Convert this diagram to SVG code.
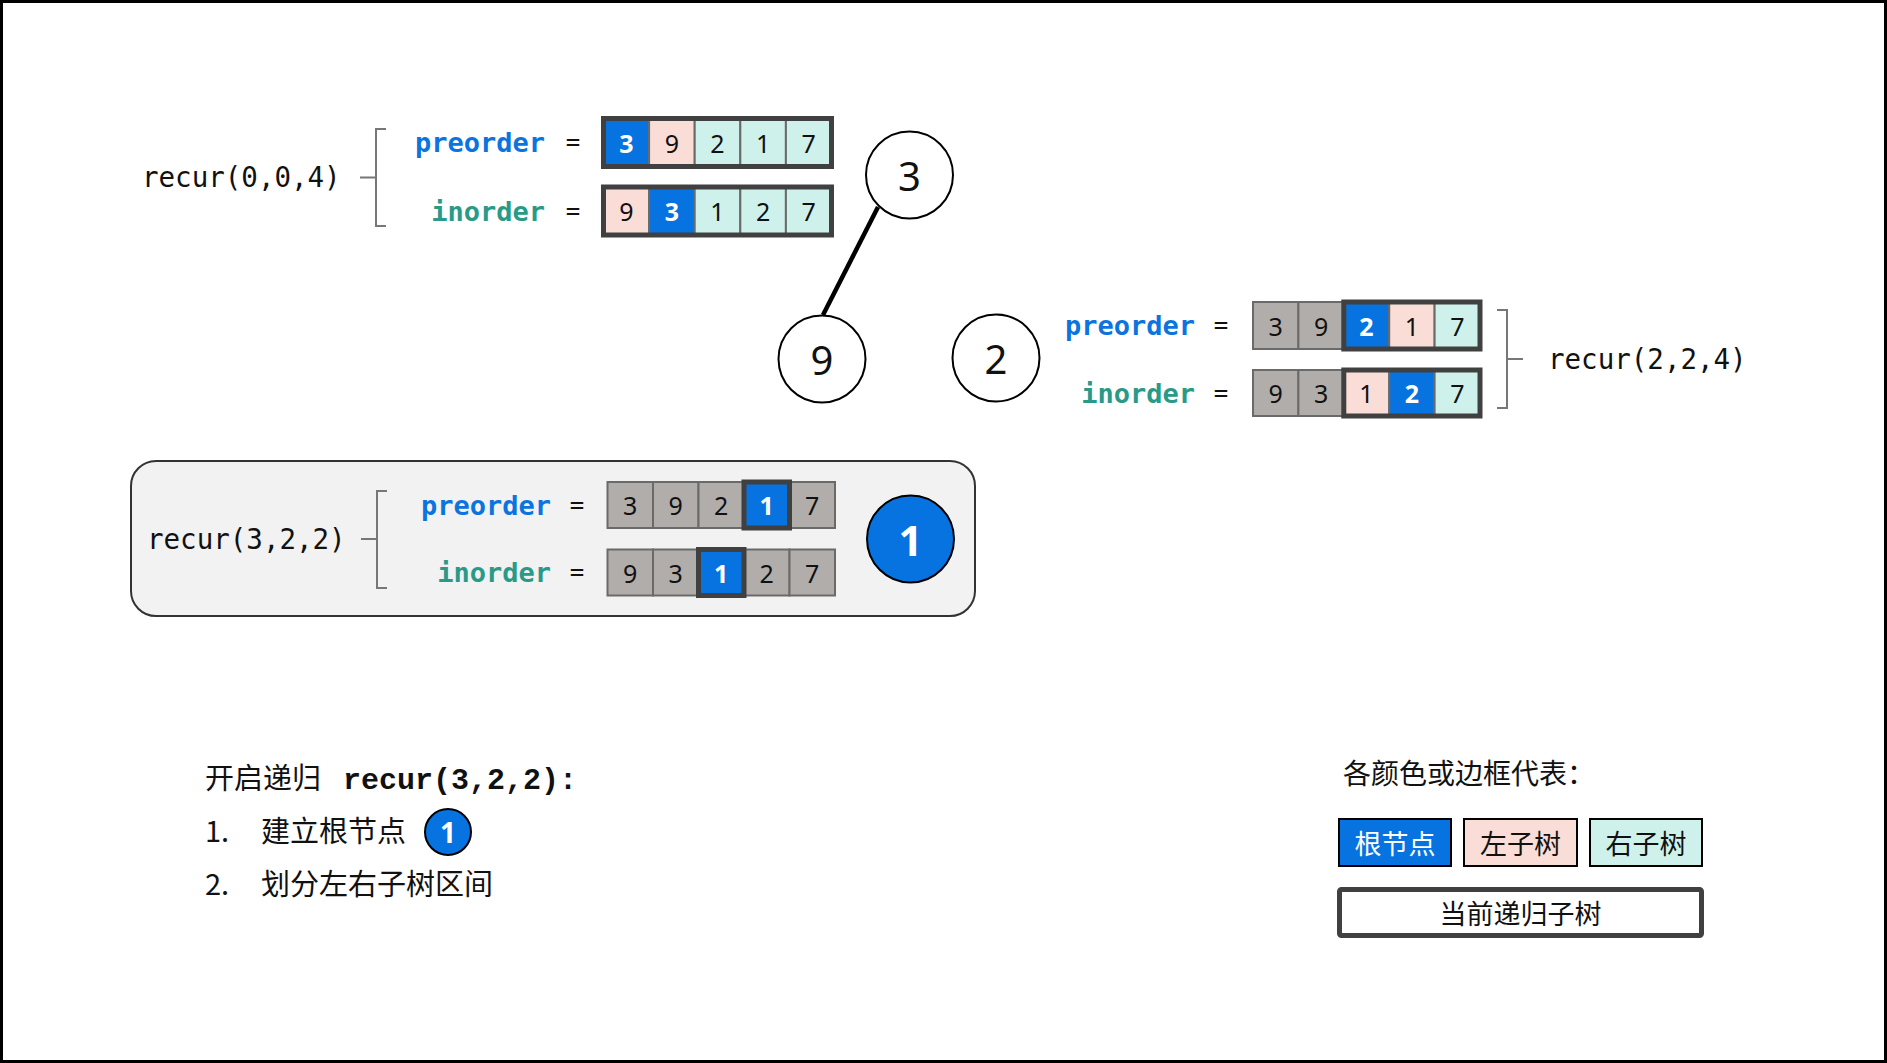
<svg xmlns="http://www.w3.org/2000/svg" width="1887" height="1063" viewBox="0 0 1887 1063">
<style>
.mono{font-family:"DejaVu Sans Mono","Liberation Mono",monospace;font-size:27.5px;fill:#111}
.kw{font-family:"DejaVu Sans Mono","Liberation Mono",monospace;font-size:27px;font-weight:bold}
.pre{fill:#0b74de}
.ino{fill:#2a9a88}
.eq{font-family:"DejaVu Sans Mono","Liberation Mono",monospace;font-size:24px;fill:#111}
.num{font-family:"Noto Sans","Open Sans",sans-serif;font-size:25px;fill:#111;text-anchor:middle;dominant-baseline:central}
.numw{font-family:"Noto Sans","Open Sans",sans-serif;font-size:25px;fill:#fff;font-weight:bold;text-anchor:middle;dominant-baseline:central}
.c{stroke:#6a6a6a;stroke-width:2}
.blue{fill:#0773e0}
.pink{fill:#f9ddd6}
.cyan{fill:#cff1eb}
.gray{fill:#b1adab}
.thick{fill:none;stroke:#404040;stroke-width:5}
.br{fill:none;stroke:#777;stroke-width:2}
.node{fill:#fff;stroke:#000;stroke-width:2}
.nlab{font-family:"Noto Sans","Open Sans",sans-serif;font-size:40px;fill:#111;text-anchor:middle;dominant-baseline:central}
.cjk{font-family:"Noto Sans CJK SC","Noto Sans",sans-serif;font-size:27px;fill:#111}
.note{font-family:"Noto Sans CJK SC","Noto Sans",sans-serif;font-size:29px;fill:#111}
</style>
<rect x="1.5" y="1.5" width="1884" height="1060" fill="#fff" stroke="#000" stroke-width="3"/>

<g id="connectors">
<line x1="878" y1="207" x2="823" y2="315" stroke="#000" stroke-width="4.5"/>
</g>

<g id="recur-0-0-4">
<text class="mono" x="142" y="177" dominant-baseline="central">recur(0,0,4)</text>
<path class="br" d="M386,129 H376 V226 H386 M360,177.5 H376"/>
<text class="kw pre" x="545" y="142" text-anchor="end" dominant-baseline="central">preorder</text>
<text class="eq" x="573" y="142" text-anchor="middle" dominant-baseline="central">=</text>
<text class="kw ino" x="545" y="211" text-anchor="end" dominant-baseline="central">inorder</text>
<text class="eq" x="573" y="211" text-anchor="middle" dominant-baseline="central">=</text>
<g>
<rect class="c blue" x="603.5" y="118.5" width="45.6" height="48"/>
<rect class="c pink" x="649.1" y="118.5" width="45.6" height="48"/>
<rect class="c cyan" x="694.7" y="118.5" width="45.6" height="48"/>
<rect class="c cyan" x="740.3" y="118.5" width="45.6" height="48"/>
<rect class="c cyan" x="785.9" y="118.5" width="45.6" height="48"/>
<rect class="thick" x="603.5" y="118.5" width="228" height="48"/>
<text class="numw" x="626.3" y="142.5">3</text>
<text class="num" x="671.9" y="142.5">9</text>
<text class="num" x="717.5" y="142.5">2</text>
<text class="num" x="763.1" y="142.5">1</text>
<text class="num" x="808.7" y="142.5">7</text>
</g>
<g>
<rect class="c pink" x="603.5" y="187" width="45.6" height="48"/>
<rect class="c blue" x="649.1" y="187" width="45.6" height="48"/>
<rect class="c cyan" x="694.7" y="187" width="45.6" height="48"/>
<rect class="c cyan" x="740.3" y="187" width="45.6" height="48"/>
<rect class="c cyan" x="785.9" y="187" width="45.6" height="48"/>
<rect class="thick" x="603.5" y="187" width="228" height="48"/>
<text class="num" x="626.3" y="211">9</text>
<text class="numw" x="671.9" y="211">3</text>
<text class="num" x="717.5" y="211">1</text>
<text class="num" x="763.1" y="211">2</text>
<text class="num" x="808.7" y="211">7</text>
</g>
</g>

<g id="node-3">
<circle class="node" cx="909.5" cy="175" r="43.5"/>
<text class="nlab" x="909.5" y="175">3</text>
</g>
<g id="node-9">
<circle class="node" cx="822" cy="359" r="43.5"/>
<text class="nlab" x="822" y="359">9</text>
</g>
<g id="node-2">
<circle class="node" cx="996" cy="358" r="43.5"/>
<text class="nlab" x="996" y="358">2</text>
</g>

<g id="recur-2-2-4">
<text class="kw pre" x="1195" y="325" text-anchor="end" dominant-baseline="central">preorder</text>
<text class="eq" x="1221" y="325" text-anchor="middle" dominant-baseline="central">=</text>
<text class="kw ino" x="1195" y="393" text-anchor="end" dominant-baseline="central">inorder</text>
<text class="eq" x="1221" y="393" text-anchor="middle" dominant-baseline="central">=</text>
<g>
<rect class="c gray" x="1253" y="302" width="45.4" height="47"/>
<rect class="c gray" x="1298.4" y="302" width="45.4" height="47"/>
<rect class="c blue" x="1343.8" y="302" width="45.4" height="47"/>
<rect class="c pink" x="1389.2" y="302" width="45.4" height="47"/>
<rect class="c cyan" x="1434.6" y="302" width="45.4" height="47"/>
<rect class="thick" x="1343.8" y="302" width="136.2" height="47"/>
<text class="num" x="1275.7" y="325.5">3</text>
<text class="num" x="1321.1" y="325.5">9</text>
<text class="numw" x="1366.5" y="325.5">2</text>
<text class="num" x="1411.9" y="325.5">1</text>
<text class="num" x="1457.3" y="325.5">7</text>
</g>
<g>
<rect class="c gray" x="1253" y="370" width="45.4" height="46"/>
<rect class="c gray" x="1298.4" y="370" width="45.4" height="46"/>
<rect class="c pink" x="1343.8" y="370" width="45.4" height="46"/>
<rect class="c blue" x="1389.2" y="370" width="45.4" height="46"/>
<rect class="c cyan" x="1434.6" y="370" width="45.4" height="46"/>
<rect class="thick" x="1343.8" y="370" width="136.2" height="46"/>
<text class="num" x="1275.7" y="393">9</text>
<text class="num" x="1321.1" y="393">3</text>
<text class="num" x="1366.5" y="393">1</text>
<text class="numw" x="1411.9" y="393">2</text>
<text class="num" x="1457.3" y="393">7</text>
</g>
<path class="br" d="M1497,310 H1507 V408 H1497 M1507,359 H1523"/>
<text class="mono" x="1548" y="359" dominant-baseline="central">recur(2,2,4)</text>
</g>

<g id="recur-3-2-2">
<rect x="131" y="461" width="844" height="155" rx="25" fill="#f2f2f2" stroke="#333" stroke-width="2"/>
<text class="mono" x="147" y="539" dominant-baseline="central">recur(3,2,2)</text>
<path class="br" d="M387,491 H377 V588 H387 M361,539 H377"/>
<text class="kw pre" x="551" y="505" text-anchor="end" dominant-baseline="central">preorder</text>
<text class="eq" x="577" y="505" text-anchor="middle" dominant-baseline="central">=</text>
<text class="kw ino" x="551" y="572" text-anchor="end" dominant-baseline="central">inorder</text>
<text class="eq" x="577" y="572" text-anchor="middle" dominant-baseline="central">=</text>
<g>
<rect class="c gray" x="607.5" y="482" width="45.5" height="46"/>
<rect class="c gray" x="653" y="482" width="45.5" height="46"/>
<rect class="c gray" x="698.5" y="482" width="45.5" height="46"/>
<rect class="c blue" x="744" y="482" width="45.5" height="46"/>
<rect class="c gray" x="789.5" y="482" width="45.5" height="46"/>
<rect class="thick" x="744" y="482" width="45.5" height="46"/>
<text class="num" x="630.2" y="505">3</text>
<text class="num" x="675.7" y="505">9</text>
<text class="num" x="721.2" y="505">2</text>
<text class="numw" x="766.7" y="505">1</text>
<text class="num" x="812.2" y="505">7</text>
</g>
<g>
<rect class="c gray" x="607.5" y="549.5" width="45.5" height="46"/>
<rect class="c gray" x="653" y="549.5" width="45.5" height="46"/>
<rect class="c blue" x="698.5" y="549.5" width="45.5" height="46"/>
<rect class="c gray" x="744" y="549.5" width="45.5" height="46"/>
<rect class="c gray" x="789.5" y="549.5" width="45.5" height="46"/>
<rect class="thick" x="698.5" y="549.5" width="45.5" height="46"/>
<text class="num" x="630.2" y="572.5">9</text>
<text class="num" x="675.7" y="572.5">3</text>
<text class="numw" x="721.2" y="572.5">1</text>
<text class="num" x="766.7" y="572.5">2</text>
<text class="num" x="812.2" y="572.5">7</text>
</g>
</g>

<g id="node-1">
<circle cx="910.5" cy="539" r="43.5" fill="#0773e0" stroke="#000" stroke-width="2"/>
<text class="nlab" x="910.5" y="539" style="fill:#fff;font-weight:bold;font-size:42px">1</text>
</g>

<g id="notes">
<text class="note" x="205" y="789">开启递归 <tspan x="343" style="font-family:'Liberation Mono','DejaVu Sans Mono',monospace;font-weight:bold;font-size:30px">recur(3,2,2):</tspan></text>
<text class="note" x="205" y="842">1.<tspan x="261">建立根节点</tspan></text>
<circle cx="448" cy="832" r="23" fill="#0773e0" stroke="#000" stroke-width="2"/>
<text x="448" y="832" font-family="'Noto Sans',sans-serif" font-size="28" font-weight="bold" fill="#fff" text-anchor="middle" dominant-baseline="central">1</text>
<text class="note" x="205" y="895">2.<tspan x="261">划分左右子树区间</tspan></text>
</g>

<g id="legend">
<text class="cjk" x="1343" y="784" style="font-size:28px">各颜色或边框代表：</text>
<rect x="1339" y="819" width="112" height="47" fill="#0773e0" stroke="#000" stroke-width="2"/>
<text class="cjk" x="1395" y="842.5" text-anchor="middle" dominant-baseline="central" style="fill:#fff">根节点</text>
<rect x="1464" y="819" width="113" height="47" fill="#f9ddd6" stroke="#000" stroke-width="2"/>
<text class="cjk" x="1520.5" y="842.5" text-anchor="middle" dominant-baseline="central">左子树</text>
<rect x="1590" y="819" width="112" height="47" fill="#cff1eb" stroke="#000" stroke-width="2"/>
<text class="cjk" x="1646" y="842.5" text-anchor="middle" dominant-baseline="central">右子树</text>
<rect x="1339.5" y="889.5" width="362" height="46" rx="2" fill="#fff" stroke="#404040" stroke-width="5"/>
<text class="cjk" x="1520.5" y="912.5" text-anchor="middle" dominant-baseline="central">当前递归子树</text>
</g>
</svg>
